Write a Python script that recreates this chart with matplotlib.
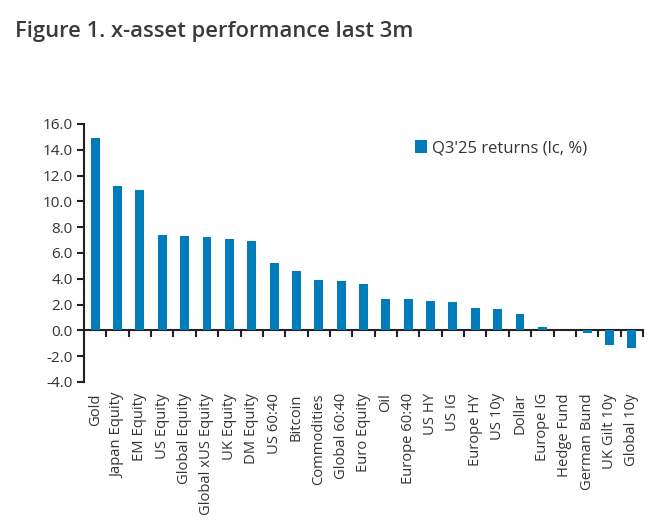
import numpy as np
import matplotlib
matplotlib.use("Agg")
import matplotlib.pyplot as plt

plt.rcParams['font.family'] = ['Open Sans', 'DejaVu Sans']

# -------------------- datos --------------------
assets = [
    "Gold", "Japan Equity", "EM Equity", "US Equity", "Global Equity",
    "Global xUS Equity", "UK Equity", "DM Equity", "US 60:40", "Bitcoin",
    "Commodities", "Global 60:40", "Euro Equity", "Oil", "Europe 60:40",
    "US HY", "US IG", "Europe HY", "US 10y", "Dollar", "Europe IG",
    "Hedge Fund", "German Bund", "UK Gilt 10y", "Global 10y",
]
returns = [
    14.9, 11.2, 10.9, 7.4, 7.3, 7.2, 7.1, 6.9, 5.2, 4.6,
    3.9, 3.85, 3.6, 2.45, 2.45, 2.3, 2.2, 1.75, 1.65, 1.3, 0.3,
    0.0, -0.2, -1.15, -1.35,
]
series_label = "Q3'25 returns (lc, %)"
title = "Figure 1. x-asset performance last 3m"

y_min, y_max = -4.0, 16.0
bar_color = "#007cba"
txt_color = "#333333"

# -------------------- figura --------------------
fig = plt.figure(figsize=(6.7, 5.32), dpi=100)
ax = fig.add_axes([0.1254, 0.2820, 0.8343, 0.4850])

x = np.arange(len(assets))
ax.bar(x, returns, width=0.4, color=bar_color, linewidth=0,
       label=series_label, zorder=2)

ax.set_xlim(-0.5, len(assets) - 0.5)
ax.set_ylim(y_min, y_max)
yt = np.arange(y_min, y_max + 0.1, 2.0)
ax.set_yticks(yt)
ax.set_yticklabels([f"{v:.1f}" for v in yt])

for s in ["top", "right", "bottom"]:
    ax.spines[s].set_visible(False)
ax.spines["left"].set_linewidth(1.5)
ax.spines["left"].set_color("#222222")
ax.tick_params(axis="y", direction="out", length=5, width=1.5,
               colors="#222222", labelsize=11, labelcolor=txt_color, pad=3)

# etiquetas de categoría abajo (sin marcas)
ax.set_xticks(x)
ax.set_xticklabels(assets, rotation=90, fontsize=10.6, color=txt_color)
ax.tick_params(axis="x", length=0, pad=8)

# eje en cero con marcas entre categorías
zero_frac = (0 - y_min) / (y_max - y_min)
sec = ax.secondary_xaxis(zero_frac)
sec.spines["bottom"].set_linewidth(1.5)
sec.spines["bottom"].set_color("#222222")
sec.set_xticks(np.arange(-0.5, len(assets), 1.0))
sec.set_xticklabels([])
sec.tick_params(axis="x", direction="out", length=5, width=1.5, colors="#222222")

leg = ax.legend(loc="upper left", bbox_to_anchor=(0.565, 0.995), frameon=False,
                fontsize=12, handlelength=0.7, handleheight=0.8,
                handletextpad=0.35, labelcolor=txt_color)

fig.text(0.022, 0.94, title, fontsize=15.8, fontweight="semibold",
         color="#3a3a3a", va="center", ha="left")

fig.savefig("out.png", dpi=100)
plt.close(fig)
